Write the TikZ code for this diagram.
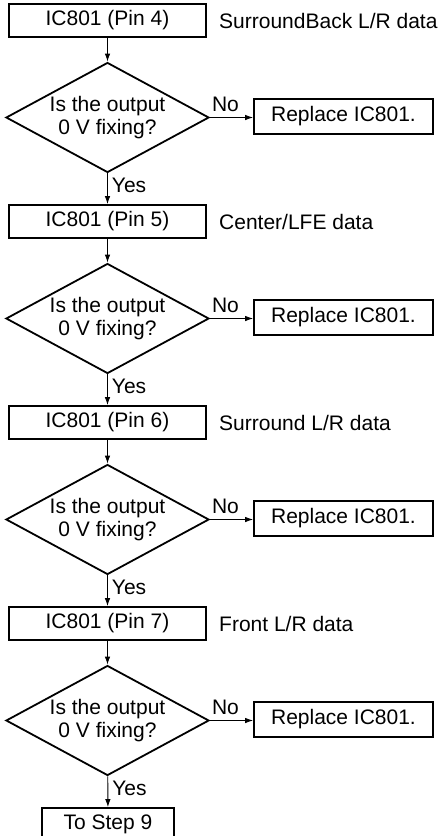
\documentclass[tikz,border=0pt]{standalone}
\usepackage{fontspec}
\setmainfont{Liberation Sans}
\usetikzlibrary{shapes.geometric,arrows.meta}
\begin{document}
\begin{tikzpicture}[x=1pt,y=-1pt,
  every node/.style={font=\fontsize{21}{23}\selectfont},
  box/.style={draw,line width=1.8pt,minimum height=33pt,inner sep=0pt},
  check/.style={draw,diamond,line width=1.8pt,minimum width=203pt,minimum height=110pt,inner sep=0pt},
  flow/.style={-{Latex[length=8pt,width=5.5pt]},line width=0.9pt}]
  \useasboundingbox (0,0) rectangle (443,836);
  % four checks of IC801 output pins
  \foreach \i/\pin/\txt in {1/4/{SurroundBack L/R data},2/5/{Center/LFE data},3/6/{Surround L/R data},4/7/{Front L/R data}}{
    \pgfmathsetmacro\yb{20.5+201*(\i-1)}
    \node[box,minimum width=197pt] (box\i) at (107.5,\yb) {IC801 (Pin \pin)};
    \node[anchor=west,inner sep=0pt] (side\i) at (219,\yb) {\txt};
    \node[check,label={[align=center]center:{Is the output\\0 V fixing?}}] (dia\i) at (107.5,\yb+97) {};
    \node[box,minimum width=179pt,minimum height=35pt] (rep\i) at (343.5,\yb+96) {Replace IC801.};
    \draw[flow] (box\i) -- (dia\i);
    \draw[flow] (dia\i.east) -- node[above,pos=0.36,inner sep=5pt] {No} (dia\i.east -| rep\i.west);
  }
  \node[box,minimum width=132pt] (box5) at (108,824.5) {To Step 9};
  % yes branches
  \foreach \i in {1,...,4}{
    \pgfmathtruncatemacro\j{\i+1}
    \draw[flow] (dia\i) -- node[right,pos=0.4,inner sep=4pt] {Yes} (box\j);
  }
\end{tikzpicture}
\end{document}
